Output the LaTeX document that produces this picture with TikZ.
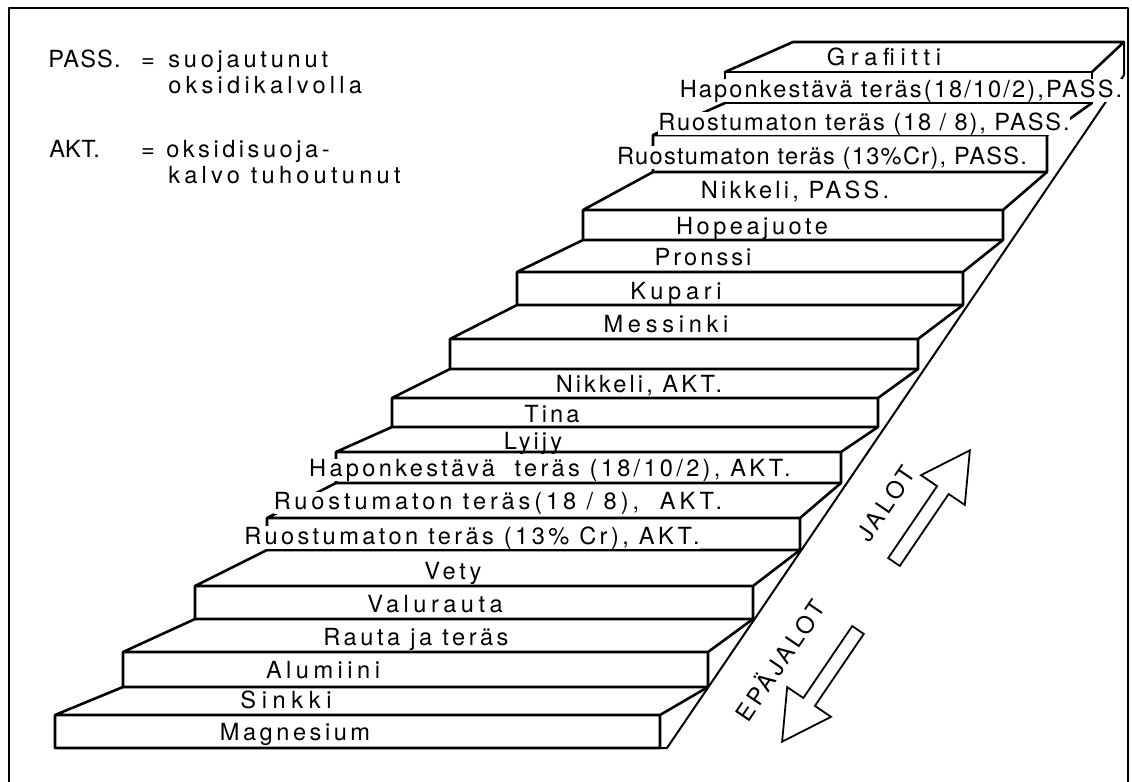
\documentclass[tikz,border=0pt]{standalone}
\usepackage{fontspec}
\setmainfont{TeX Gyre Heros}
\newcommand{\lsp}[1]{\fontsize{11.8}{14}\selectfont\addfontfeature{LetterSpace=#1}}
\tikzset{
  lbl/.style={inner sep=0pt,anchor=base},
  cover/.style={lbl,fill=white},
  leg/.style={inner sep=0pt,anchor=base west},
  hollow/.style={line width=.9pt,line join=miter},
}
\begin{document}
\begin{tikzpicture}[x=.5pt,y=-.5pt,line join=round,line cap=round,line width=1.3pt,font=\lsp{0}]
	\useasboundingbox (0,0) rectangle (1132,782);
	\draw[line width=.7pt] (9,782)--(9,8)--(1128,8)--(1128,782);
	% portaat ylhaalta alas
	\draw (725,72)--(793,42)--(1124,42)--(1092,72);
	\draw (725,72) rectangle (1092,103);
	\draw (653,135) rectangle (1047,172) (653,135)--(725,103) (1047,135)--(1092,103);
	\draw (583,210) rectangle (1003,240) (583,210)--(653,172) (1003,210)--(1047,172);
	\draw (517,272) rectangle (963,305) (517,272)--(583,240) (963,272)--(1003,240);
	\draw (450,339) rectangle (918,369) (450,339)--(517,305) (918,339)--(963,305);
	\draw (392,398) rectangle (878,427) (392,398)--(450,369) (878,398)--(918,369);
	\draw (336,452) rectangle (841,483) (336,452)--(392,427) (841,452)--(878,427);
	\draw (267,518) rectangle (800,550) (267,518)--(336,483) (800,518)--(841,483);
	\draw (195,586) rectangle (753,619) (195,586)--(267,550) (753,586)--(800,550);
	\draw (123,652) rectangle (708,687) (123,652)--(195,619) (708,652)--(753,619);
	\draw (55,715) rectangle (660,748) (55,715)--(123,687) (660,715)--(708,687);
	\draw[line width=1pt] (1124,42)--(1124,75)--(667,748)--(660,748);
	% selitteet
	\node[leg,font=\lsp{5}] (pass) at (47,67) {PASS.};
	\node[inner sep=0pt,anchor=base] (passeq) at (148,67) {=};
	\node[leg,font=\lsp{16}] (passa) at (167,67) {suojautunut};
	\node[leg,font=\lsp{18}] (passb) at (167,93) {oksidikalvolla};
	\node[leg] (akt) at (48,157) {AKT.};
	\node[inner sep=0pt,anchor=base] (akteq) at (148,157) {=};
	\node[leg,font=\lsp{15}] (akta) at (165,157) {oksidisuoja-};
	\node[leg,font=\lsp{18}] (aktb) at (167,183) {kalvo tuhoutunut};
	% tekstit portailla
	\node[lbl,font=\lsp{24}] (graf) at (884,65) {Grafiitti};
	\node[cover,font=\lsp{9}] (hpass) at (901,97) {Haponkestävä teräs(18/10/2),PASS.};
	\node[cover,font=\lsp{8}] (r8pass) at (864,130) {Ruostumaton teräs (18 / 8), PASS.};
	\node[cover,font=\lsp{5.5}] (r13pass) at (822,164) {Ruostumaton teräs (13\%Cr), PASS.};
	\node[lbl,font=\lsp{13.6}] (nipass) at (795,198) {Nikkeli, PASS.};
	\node[lbl,font=\lsp{15}] (hopea) at (752,234) {Hopeajuote};
	\node[lbl,font=\lsp{13}] (pronssi) at (703,265) {Pronssi};
	\node[lbl,font=\lsp{20}] (kupari) at (676,299) {Kupari};
	\node[lbl,font=\lsp{20}] (messinki) at (666,332) {Messinki};
	\node[lbl,font=\lsp{13}] (niakt) at (639,392) {Nikkeli, AKT.};
	\node[lbl,font=\lsp{13}] (tina) at (552,422) {Tina};
	\node[lbl,font=\lsp{13}] (lyijy) at (533,449) {Lyijy};
	\node[cover,font=\lsp{14}] (hakt) at (550,476) {Haponkestävä \ teräs (18/10/2), AKT.};
	\node[cover,font=\lsp{16.5}] (r8akt) at (498,509) {Ruostumaton teräs(18 / 8), \ AKT.};
	\node[cover,font=\lsp{14.5}] (r13akt) at (472,544) {Ruostumaton teräs (13\% Cr), AKT.};
	\node[lbl,font=\lsp{16}] (vety) at (453,579) {Vety};
	\node[lbl,font=\lsp{19}] (valu) at (435,612) {Valurauta};
	\node[lbl,font=\lsp{15}] (rauta) at (416,645) {Rauta ja teräs};
	\node[lbl,font=\lsp{19}] (alu) at (323,678) {Alumiini};
	\node[lbl,font=\lsp{24}] (sinkki) at (286,708) {Sinkki};
	\node[lbl,font=\lsp{15}] (magn) at (295,740) {Magnesium};
	% nuolet
	\draw[hollow,shift={(894,562)},rotate=55.8] (0,-7)--(87,-7)--(87,-26.5)--(135,0)--(87,26.5)--(87,7)--(0,7)--cycle;
	\draw[hollow,shift={(858,630)},rotate=235.8] (0,-7)--(87,-7)--(87,-26.5)--(135,0)--(87,26.5)--(87,7)--(0,7)--cycle;
	\node[rotate=55.8,inner sep=0pt,font=\lsp{15}] (jalot) at (886,504) {JALOT};
	\node[rotate=55.8,inner sep=0pt,font=\lsp{14.5}] (epajalot) at (779,660) {EPÄJALOT};
\end{tikzpicture}
\end{document}
